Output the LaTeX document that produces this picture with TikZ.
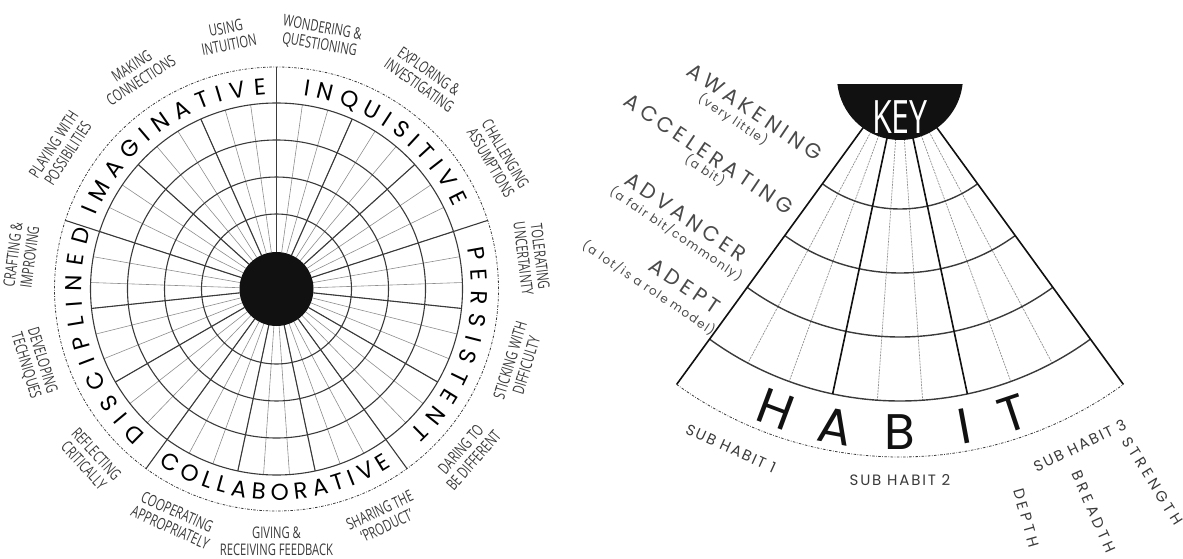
\documentclass[tikz,border=0pt]{standalone}
\usepackage{graphicx}
\usepackage{fontspec}
\setmainfont{Open Sans}
\newfontfamily\geofont{Poppins}
\usetikzlibrary{decorations.text}
\definecolor{HWInk}{HTML}{111111}
\definecolor{HWGrid}{HTML}{3A3A3A}
\definecolor{HWThin}{HTML}{8E8E8E}
\definecolor{HWText}{HTML}{3A3A3A}
\definecolor{HWSoft}{HTML}{4A4A4A}
\newcommand\namefont{\geofont\fontsize{23}{23}\selectfont}
\newcommand\narrowlines[1]{\scalebox{0.7}[1]{\begin{tabular}{@{}c@{}}#1\end{tabular}}}
\tikzset{
  wheelring/.style={HWGrid,line width=1.1pt},
  wheelspoke/.style={HWThin,line width=0.6pt},
  wheelbold/.style={HWGrid,line width=1.1pt},
  fanring/.style={HWGrid,line width=1.4pt},
  fanspoke/.style={HWThin,line width=0.7pt,dash pattern=on 2pt off 1pt},
  fanbold/.style={HWInk,line width=1.6pt},
  dotring/.style={HWGrid,line width=0.8pt,dash pattern=on 2.5pt off 1.5pt on 0.7pt off 1.5pt},
  subhabit/.style={text=HWText,font=\fontsize{16}{17}\selectfont,inner sep=0pt},
  keyword/.style={text=white,font=\fontsize{46}{46}\selectfont,inner sep=0pt},
  keylevel/.style={text=HWSoft,font=\geofont\addfontfeature{LetterSpace=20}\fontsize{21}{23}\selectfont,
                   rotate=-34,inner sep=0pt},
  keynote/.style={text=HWSoft,font=\geofont\addfontfeature{LetterSpace=12}\fontsize{12}{14}\selectfont,
                  rotate=-34,inner sep=0pt},
  fanletter/.style={text=HWInk,font=\geofont\fontsize{50}{50}\selectfont,inner sep=0pt},
  fansub/.style={text=HWText,font=\geofont\addfontfeature{LetterSpace=12}\fontsize{15}{17}\selectfont,inner sep=0pt},
  fanaxis/.style={text=HWText,font=\geofont\addfontfeature{LetterSpace=25}\fontsize{15}{17}\selectfont,
                  inner sep=0pt,anchor=west},
  arcname/.style={decorate,decoration={text along path,text align={fit to path},text={|\namefont|#1}}},
}

\begin{document}
\begin{tikzpicture}[x=1pt,y=1pt]
  \useasboundingbox (0,0) rectangle (1183,558);

  % the habits wheel
  \begin{scope}[shift={(276.5,269)}]
    \foreach \k in {0,...,44}
      \draw[wheelspoke] (90-8*\k:37) -- (90-8*\k:186);
    \foreach \r in {75,112,149,186}
      \draw[wheelring] (0,0) circle[radius=\r];
    \foreach \k in {0,...,14}
      \draw[wheelbold] (90-24*\k:37) -- (90-24*\k:186);
    \foreach \a in {90,18,-54,-126,-198}
      \draw[wheelbold] (\a:186) -- (\a:222);
    \draw[dotring] (0,0) circle[radius=222];
    \fill[HWInk] (0,0) circle[radius=37];

    \path[arcname=IMAGINATIVE] (158:195) arc[start angle=158,end angle=93,radius=195];
    \path[arcname=INQUISITIVE] (82:195) arc[start angle=82,end angle=25,radius=195];
    \path[arcname=PERSISTENT] (12:195) arc[start angle=12,end angle=-47,radius=195];
    \path[arcname=COLLABORATIVE] (-124:211) arc[start angle=-124,end angle=-57,radius=211];
    \path[arcname=DISCIPLINED] (228:195) arc[start angle=228,end angle=162.5,radius=195];

    \foreach \a/\r/\t [count=\i] in {
        147/57/{PLAYING WITH\\POSSIBILITIES},
        123/33/{MAKING\\CONNECTIONS},
        101/11/{USING\\INTUITION},
        80/-10/{WONDERING \&\\QUESTIONING},
        55/-35/{EXPLORING \&\\INVESTIGATING},
        30.5/-59.5/{CHALLENGING\\ASSUMPTIONS},
        7/-83/{TOLERATING\\UNCERTAINTY},
        -17/73/{STICKING WITH\\DIFFICULTY},
        -41/49/{DARING TO\\BE DIFFERENT},
        -65/25/{SHARING THE\\`PRODUCT'},
        -90/0/{GIVING \&\\RECEIVING FEEDBACK},
        -114/-24/{COOPERATING\\APPROPRIATELY},
        -137.5/-47.5/{REFLECTING\\CRITICALLY},
        -163/-73/{DEVELOPING\\TECHNIQUES},
        172.6/82.6/{CRAFTING \&\\IMPROVING}}
      \node[subhabit,rotate=\r] (sub\i) at (\a:255) {\narrowlines{\t}};
  \end{scope}

  % the key
  \begin{scope}[shift={(900,481)}]
    \foreach \k in {0,...,9}
      \draw[fanspoke] (234+8*\k:62) -- (234+8*\k:324);
    \foreach \r in {132,196,260,324}
      \draw[fanring] (234:\r) arc[start angle=234,end angle=306,radius=\r];
    \foreach \a in {258,282}
      \draw[fanbold] (\a:62) -- (\a:324);
    \foreach \a in {234,306}
      \draw[fanbold] (\a:62) -- (\a:380);
    \draw[dotring] (234:380) arc[start angle=234,end angle=306,radius=380];
    \fill[HWInk] (-6.4:63) arc[start angle=-6.4,end angle=-173.6,radius=63] -- cycle;
    \node[keyword] (key) at (0,-40) {\scalebox{0.7}[1]{KEY}};

    \foreach \l/\p [count=\i] in {H/-20.5,A/-10.5,B/0,I/10.5,T/18.5}
      \node[fanletter,rotate=\p] (habit\i) at (270+\p:355) {\l};

    \node[fansub,rotate=-24.5] (subone) at (245.5:408) {SUB HABIT 1};
    \node[fansub] (subtwo) at (270:403) {SUB HABIT 2};
    \node[fansub,rotate=26] (subthree) at (296:410) {SUB HABIT 3};

    \node[fanaxis,rotate=-74] (depth) at (286:428) {DEPTH};
    \node[fanaxis,rotate=-66] (breadth) at (294:432) {BREADTH};
    \node[fanaxis,rotate=-58] (strength) at (302:426) {STRENGTH};
  \end{scope}

  \node[keylevel] (awake) at (755,446) {AWAKENING};
  \node[keynote] (awakenote) at (733,438) {(very little)};
  \node[keylevel] (accel) at (709,404) {ACCELERATING};
  \node[keynote] (accelnote) at (705,388) {(a bit)};
  \node[keylevel] (advance) at (686,341) {ADVANCER};
  \node[keynote] (advancenote) at (676,324) {(a fair bit/commonly)};
  \node[keylevel] (adept) at (685,272) {ADEPT};
  \node[keynote] (adeptnote) at (649,270) {(a lot/is a role model)};
\end{tikzpicture}
\end{document}
